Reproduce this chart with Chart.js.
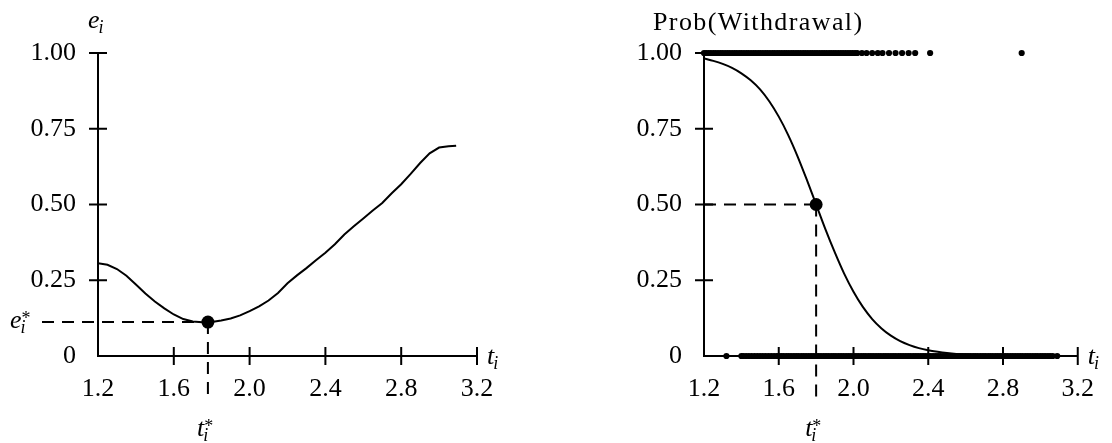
<!DOCTYPE html>
<html lang="en">
<head>
  <meta charset="UTF-8" />
  <title>Error rate and withdrawal probability</title>
  <script src="https://cdn.jsdelivr.net/npm/chart.js"></script>
  <style>
    body {
      margin: 0;
      background: #ffffff;
    }

    .wrap {
      position: relative;
      width: 1112px;
      height: 443px;
    }

    .panel {
      position: absolute;
      top: 0;
      width: 556px;
      height: 443px;
    }

    #left-panel { left: 0; }
    #right-panel { left: 556px; }
  </style>
</head>
<body>

<div class="wrap">
  <div class="panel" id="left-panel"><canvas id="errChart"></canvas></div>
  <div class="panel" id="right-panel"><canvas id="probChart"></canvas></div>
</div>

<script>
  // Axis ticks (shared by both panels)
  const xTicks = [1.2, 1.6, 2.0, 2.4, 2.8, 3.2];
  const yTicks = [0, 0.25, 0.5, 0.75, 1.0];
  const yTickLabels = ['0', '0.25', '0.50', '0.75', '1.00'];

  // Left panel: e_i against t_i
  const errT = [1.20, 1.25, 1.30, 1.35, 1.40, 1.45, 1.50, 1.55, 1.60, 1.65,
                1.70, 1.75, 1.80, 1.85, 1.90, 1.95, 2.00, 2.05, 2.10, 2.15,
                2.20, 2.25, 2.30, 2.35, 2.40, 2.45, 2.50, 2.55, 2.60, 2.65,
                2.70, 2.75, 2.80, 2.85, 2.90, 2.95, 3.00, 3.05, 3.09];
  const errVal = [0.306, 0.301, 0.287, 0.265, 0.236, 0.206, 0.180, 0.157, 0.137, 0.122,
                  0.114, 0.111, 0.112, 0.117, 0.124, 0.134, 0.148, 0.164, 0.183, 0.208,
                  0.240, 0.266, 0.290, 0.316, 0.341, 0.369, 0.401, 0.428, 0.454, 0.480,
                  0.505, 0.537, 0.567, 0.601, 0.637, 0.669, 0.688, 0.692, 0.694];
  const errStar = { x: 1.78, y: 0.112 };

  // Right panel: fitted Prob(Withdrawal)
  const probT = [1.20, 1.25, 1.30, 1.35, 1.40, 1.45, 1.50, 1.55, 1.60, 1.65,
                 1.70, 1.75, 1.80, 1.85, 1.90, 1.95, 2.00, 2.05, 2.10, 2.15,
                 2.20, 2.25, 2.30, 2.35, 2.40, 2.45, 2.50, 2.55, 2.60, 2.70,
                 2.80, 2.90, 3.00, 3.10];
  const probVal = [0.982, 0.974, 0.964, 0.951, 0.933, 0.910, 0.880, 0.840, 0.790, 0.730,
                   0.660, 0.582, 0.500, 0.418, 0.342, 0.272, 0.212, 0.162, 0.122, 0.091,
                   0.067, 0.049, 0.036, 0.026, 0.019, 0.014, 0.010, 0.007, 0.005, 0.003,
                   0.001, 0.001, 0.000, 0.000];
  const probStar = { x: 1.80, y: 0.50 };

  // Observed outcomes: withdrawn (y = 1) and not withdrawn (y = 0)
  const withdrawnT = [1.200, 1.212, 1.225, 1.237, 1.250, 1.262, 1.275, 1.288, 1.300, 1.313,
                      1.326, 1.338, 1.351, 1.364, 1.376, 1.389, 1.401, 1.414, 1.427, 1.439,
                      1.452, 1.465, 1.477, 1.490, 1.502, 1.515, 1.528, 1.540, 1.553, 1.566,
                      1.578, 1.591, 1.603, 1.616, 1.629, 1.641, 1.654, 1.667, 1.679, 1.692,
                      1.704, 1.717, 1.730, 1.742, 1.755, 1.768, 1.780, 1.793, 1.805, 1.818,
                      1.831, 1.843, 1.856, 1.869, 1.881, 1.894, 1.906, 1.919, 1.932, 1.944,
                      1.957, 1.970, 1.982, 1.995, 2.008, 2.020, 2.045, 2.070, 2.100, 2.130,
                      2.155, 2.190, 2.225, 2.260, 2.295, 2.330, 2.410, 2.900];
  const stayedT = [1.320, 1.400, 1.410, 1.425, 1.440, 1.455, 1.470, 1.485, 1.500, 1.515,
                   1.530, 1.545, 1.560, 1.575, 1.590, 1.600, 1.613, 1.626, 1.640, 1.653,
                   1.666, 1.680, 1.693, 1.706, 1.720, 1.733, 1.746, 1.760, 1.773, 1.786,
                   1.800, 1.813, 1.826, 1.840, 1.853, 1.866, 1.880, 1.893, 1.906, 1.920,
                   1.933, 1.946, 1.960, 1.973, 1.986, 2.000, 2.013, 2.026, 2.040, 2.053,
                   2.066, 2.080, 2.093, 2.106, 2.120, 2.133, 2.146, 2.160, 2.173, 2.186,
                   2.200, 2.213, 2.226, 2.240, 2.253, 2.266, 2.280, 2.293, 2.306, 2.320,
                   2.333, 2.346, 2.360, 2.373, 2.386, 2.400, 2.413, 2.426, 2.440, 2.453,
                   2.466, 2.480, 2.493, 2.506, 2.520, 2.533, 2.546, 2.560, 2.573, 2.586,
                   2.600, 2.613, 2.626, 2.640, 2.653, 2.666, 2.680, 2.693, 2.706, 2.720,
                   2.733, 2.746, 2.760, 2.773, 2.786, 2.800, 2.813, 2.826, 2.840, 2.853,
                   2.866, 2.880, 2.893, 2.906, 2.920, 2.933, 2.946, 2.960, 2.973, 2.986,
                   3.000, 3.013, 3.026, 3.040, 3.053, 3.066, 3.090];

  const SERIF = '"Liberation Serif", "Times New Roman", serif';
  Chart.defaults.font.family = SERIF;
  Chart.defaults.font.size = 26;
  Chart.defaults.color = '#000';

  // math-style label: italic base with optional subscript / superscript
  function drawSym(ctx, x, y, base, sub, sup) {
    ctx.font = 'italic 26px ' + SERIF;
    ctx.fillText(base, x, y);
    const w = ctx.measureText(base).width;
    if (sub) {
      ctx.font = 'italic 18px ' + SERIF;
      ctx.fillText(sub, x + w - 1, y + 5);
    }
    if (sup) {
      ctx.font = '18px ' + SERIF;
      ctx.fillText(sup, x + w, y - 4);
    }
  }

  // axes with crossing ticks, dashed guide lines and math labels
  function sketchPlugin(cfg) {
    return {
      id: 'sketch',
      beforeDatasetsDraw(chart) {
        const { ctx } = chart;
        const { x, y } = chart.scales;
        const x0 = x.getPixelForValue(xTicks[0]);
        const x1 = x.getPixelForValue(xTicks[xTicks.length - 1]);
        const y0 = y.getPixelForValue(yTicks[0]);
        const y1 = y.getPixelForValue(yTicks[yTicks.length - 1]);
        ctx.save();
        ctx.strokeStyle = '#000';
        ctx.lineWidth = 2;
        ctx.beginPath();
        ctx.moveTo(x0, y1);
        ctx.lineTo(x0, y0);
        ctx.lineTo(x1, y0);
        yTicks.slice(1).forEach(v => {
          const p = y.getPixelForValue(v);
          ctx.moveTo(x0 - 9, p);
          ctx.lineTo(x0 + 9, p);
        });
        xTicks.slice(1).forEach(v => {
          const p = x.getPixelForValue(v);
          ctx.moveTo(p, y0 - 9);
          ctx.lineTo(p, y0 + 9);
        });
        ctx.stroke();

        const sx = x.getPixelForValue(cfg.star.x);
        const sy = y.getPixelForValue(cfg.star.y);
        ctx.setLineDash([12, 8]);
        ctx.beginPath();
        ctx.moveTo(x0 - cfg.guideLeft, sy);
        ctx.lineTo(sx, sy);
        ctx.stroke();
        ctx.beginPath();
        ctx.moveTo(sx, sy);
        ctx.lineTo(sx, y0 + 46);
        ctx.stroke();
        ctx.restore();
      },
      afterDraw(chart) {
        const { ctx } = chart;
        const { x, y } = chart.scales;
        const x0 = x.getPixelForValue(xTicks[0]);
        const x1 = x.getPixelForValue(xTicks[xTicks.length - 1]);
        const y0 = y.getPixelForValue(yTicks[0]);
        const y1 = y.getPixelForValue(yTicks[yTicks.length - 1]);
        const sx = x.getPixelForValue(cfg.star.x);
        const sy = y.getPixelForValue(cfg.star.y);
        ctx.save();
        ctx.fillStyle = '#000';
        ctx.textAlign = 'left';
        ctx.textBaseline = 'alphabetic';
        if (cfg.title) {
          ctx.font = '26px ' + SERIF;
          ctx.letterSpacing = '1.4px';
          ctx.fillText(cfg.title, x0 - 51, y1 - 23);
          ctx.letterSpacing = '0px';
        } else {
          drawSym(ctx, x0 - 10, y1 - 25, 'e', 'i');
        }
        drawSym(ctx, x1 + 10, y0 + 8, 't', 'i');
        drawSym(ctx, sx - 11, 436, 't', 'i', '*');
        if (cfg.starYLabel) {
          drawSym(ctx, 10, sy + 6, 'e', 'i', '*');
        }
        ctx.restore();
      }
    };
  }

  function makeScales(axisWidth) {
    return {
      x: {
        type: 'linear',
        min: xTicks[0],
        max: xTicks[xTicks.length - 1],
        afterBuildTicks: s => { s.ticks = xTicks.map(v => ({ value: v })); },
        afterFit: s => { s.height = 87; },
        grid: { display: false, drawTicks: false },
        border: { display: false },
        ticks: {
          padding: 18,
          maxRotation: 0,
          autoSkip: false,
          callback: (v, i) => xTicks[i].toFixed(1)
        }
      },
      y: {
        type: 'linear',
        min: yTicks[0],
        max: yTicks[yTicks.length - 1],
        afterBuildTicks: s => { s.ticks = yTicks.map(v => ({ value: v })); },
        afterFit: s => { s.width = axisWidth; },
        grid: { display: false, drawTicks: false },
        border: { display: false },
        ticks: {
          padding: 22,
          autoSkip: false,
          callback: (v, i) => yTickLabels[i]
        }
      }
    };
  }

  const common = {
    responsive: true,
    maintainAspectRatio: false,
    animation: false,
    events: [],
    plugins: { legend: { display: false }, tooltip: { enabled: false } }
  };

  new Chart(document.getElementById('errChart'), {
    type: 'scatter',
    data: {
      datasets: [
        {
          data: errT.map((t, i) => ({ x: t, y: errVal[i] })),
          showLine: true,
          borderColor: '#000',
          borderWidth: 2,
          pointRadius: 0,
          tension: 0
        },
        {
          data: [errStar],
          pointRadius: 6.5,
          backgroundColor: '#000',
          borderWidth: 0
        }
      ]
    },
    options: {
      ...common,
      layout: { padding: { top: 53, right: 79, left: 0, bottom: 0 } },
      scales: makeScales(98)
    },
    plugins: [sketchPlugin({ star: errStar, guideLeft: 56, starYLabel: true })]
  });

  new Chart(document.getElementById('probChart'), {
    type: 'scatter',
    data: {
      datasets: [
        {
          data: withdrawnT.map(t => ({ x: t, y: 1 })),
          pointRadius: 3.1,
          backgroundColor: '#000',
          borderWidth: 0,
          clip: false
        },
        {
          data: stayedT.map(t => ({ x: t, y: 0 })),
          pointRadius: 3.1,
          backgroundColor: '#000',
          borderWidth: 0,
          clip: false
        },
        {
          data: probT.map((t, i) => ({ x: t, y: probVal[i] })),
          showLine: true,
          borderColor: '#000',
          borderWidth: 2,
          pointRadius: 0,
          cubicInterpolationMode: 'monotone'
        },
        {
          data: [probStar],
          pointRadius: 6.5,
          backgroundColor: '#000',
          borderWidth: 0
        }
      ]
    },
    options: {
      ...common,
      layout: { padding: { top: 53, right: 31, left: 0, bottom: 0 } },
      scales: makeScales(148)
    },
    plugins: [sketchPlugin({ star: probStar, guideLeft: 0, title: 'Prob(Withdrawal)' })]
  });
</script>

</body>
</html>
